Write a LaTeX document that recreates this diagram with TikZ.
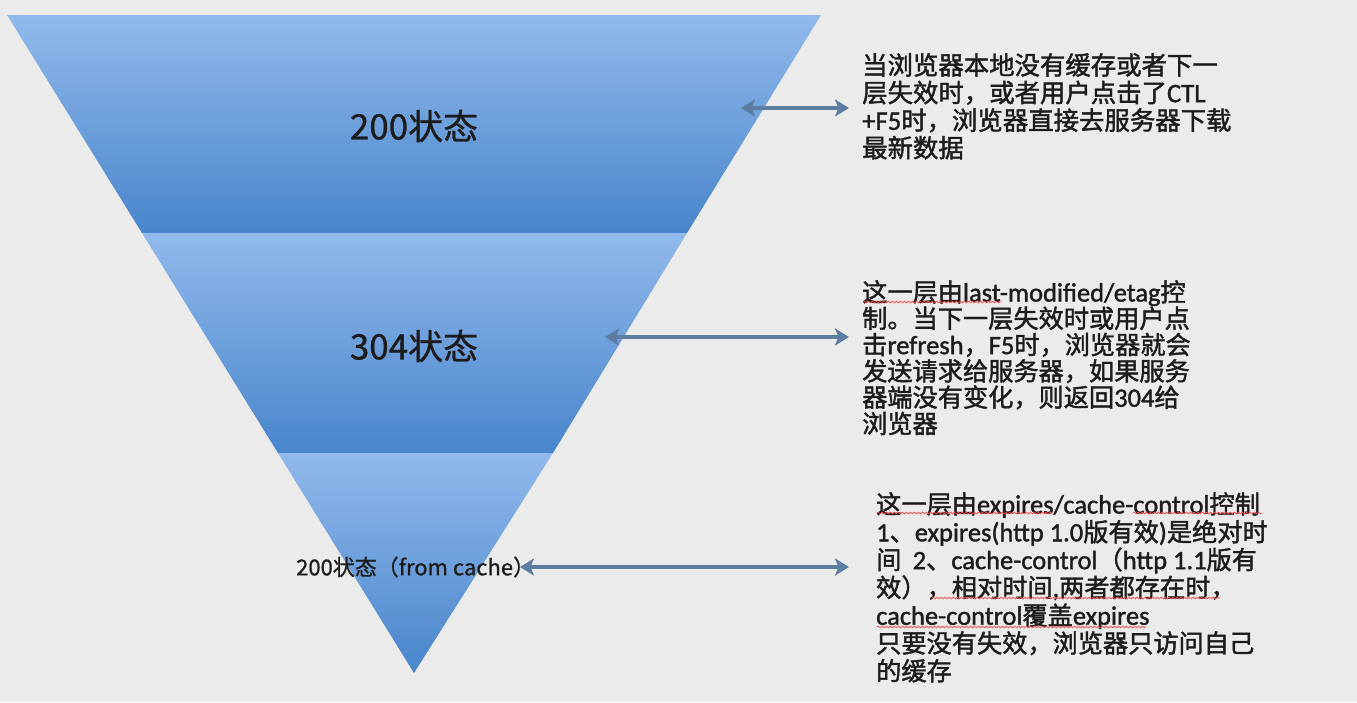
\documentclass[tikz,border=0pt]{standalone}
\usepackage{fontspec}
\setmainfont{Noto Sans CJK SC}
\newfontfamily\notefont{Noto Sans CJK SC}[FakeBold=1.6]
\newfontfamily\labelfont{Noto Sans CJK SC}[FakeBold=0.8]
\newfontfamily\latfont{Carlito}[FakeBold=1.4, Scale=1.05]
\newcommand\ltn[1]{{\latfont #1}}
\usetikzlibrary{arrows.meta,decorations.pathmorphing}
\definecolor{bgc}{RGB}{235,235,235}
\definecolor{bandtop}{RGB}{145,185,236}
\definecolor{bandbot}{RGB}{72,133,203}
\definecolor{arrowc}{RGB}{92,124,160}
\definecolor{txt}{RGB}{28,28,28}
\tikzset{
  band/.style={top color=bandtop, bottom color=bandbot, draw=none},
  layerlabel/.style={text=txt, inner sep=0pt},
  note/.style={text=txt, inner sep=0pt, anchor=north west, align=left},
  link/.style={draw=arrowc, line width=3.8pt, {Stealth[length=14pt,width=17pt,inset=3.5pt]}-{Stealth[length=14pt,width=17pt,inset=3.5pt]}},
  squiggle/.style={draw=red!75, line width=0.7pt, decorate, decoration={snake, segment length=4pt, amplitude=0.9pt}}
}
\begin{document}
\begin{tikzpicture}[x=1pt,y=-1pt]
\fill[bgc] (0,0) rectangle (1357,702);
\useasboundingbox (0,0) rectangle (1357,702);
% funnel bands
\shade[band] (7,15) -- (821,15) -- (687,233) -- (142,233) -- cycle;
\shade[band] (142,233) -- (687,233) -- (553,453) -- (278,453) -- cycle;
\shade[band] (278,453) -- (553,453) -- (414,673) -- cycle;
% layer labels
\node[layerlabel, font=\labelfont\fontsize{35}{38}\selectfont] (l1) at (414,126) {200状态};
\node[layerlabel, font=\labelfont\fontsize{35}{38}\selectfont] (l2) at (414,346) {304状态};
\node[layerlabel, font=\labelfont\fontsize{22}{25}\selectfont, anchor=west] (l3) at (296,567) {200状态（from cache）};
% notes
\node[note, font=\notefont\fontsize{25.4}{27.6}\selectfont] (n1) at (862,53) {当浏览器本地没有缓存或者下一\\层失效时，或者用户点击了\ltn{CTL}\\\ltn{+F5}时，浏览器直接去服务器下载\\最新数据};
\node[note, font=\notefont\fontsize{25.2}{26.3}\selectfont] (n2) at (862,280) {这一层由\ltn{last-modified/etag}控\\制。当下一层失效时或用户点\\击\ltn{refresh}，\ltn{F5}时，浏览器就会\\发送请求给服务器，如果服务\\器端没有变化，则返回\ltn{304}给\\浏览器};
\node[note, font=\notefont\fontsize{25.2}{27.8}\selectfont] (n3) at (876,492) {这一层由\ltn{expires/cache-control}控制\\\ltn{1}、\ltn{expires(http 1.0}版有效\ltn{)}是绝对时\\间\ \ \ltn{2}、\ltn{cache-control}（\ltn{http 1.1}版有\\效），相对时间\ltn{,}两者都存在时，\\\ltn{cache-control}覆盖\ltn{expires}\\只要没有失效，浏览器只访问自己\\的缓存};
% connectors
\coordinate (a1) at (741,108);
\coordinate (b1) at (849,108);
\coordinate (a2) at (605,337);
\coordinate (b2) at (849,337);
\coordinate (a3) at (520,567);
\coordinate (b3) at (849,567);
\draw[link] (a1) -- (b1);
\draw[link] (a2) -- (b2);
\draw[link] (a3) -- (b3);
% spell-check underlines
\draw[squiggle] (863,302) -- (1001,302);
\draw[squiggle] (877,513) -- (1053,513);
\draw[squiggle] (1133,513) -- (1262,513);
\draw[squiggle] (932,598) -- (1220,598);
\draw[squiggle] (877,627) -- (1146,627);
\end{tikzpicture}
\end{document}
